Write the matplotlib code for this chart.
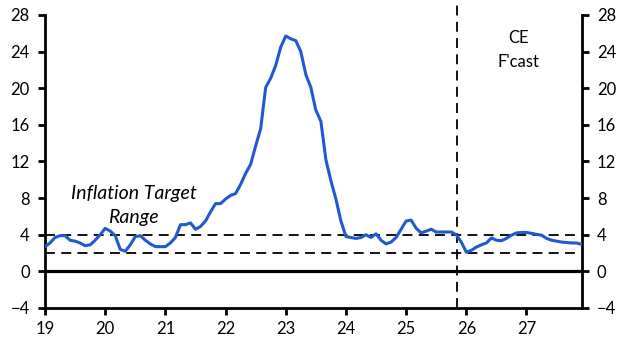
import matplotlib
matplotlib.use("Agg")
import matplotlib.pyplot as plt
import numpy as np

plt.rcParams['font.family'] = ['Lato', 'DejaVu Sans']

# Monthly CPI inflation (% y/y), Jan 2019 - Dec 2027
start_year = 2019
cpi = [
    # 2019
    2.7, 3.1, 3.7, 3.9, 3.9, 3.4, 3.3, 3.1, 2.8, 2.9, 3.4, 4.0,
    # 2020
    4.7, 4.4, 3.9, 2.4, 2.2, 2.9, 3.8, 3.9, 3.4, 3.0, 2.7, 2.7,
    # 2021
    2.7, 3.1, 3.7, 5.1, 5.1, 5.3, 4.6, 4.9, 5.5, 6.5, 7.4, 7.4,
    # 2022
    7.9, 8.3, 8.5, 9.5, 10.7, 11.7, 13.7, 15.6, 20.1, 21.1, 22.5, 24.5,
    # 2023
    25.7, 25.4, 25.2, 24.0, 21.5, 20.1, 17.6, 16.4, 12.2, 9.9, 7.9, 5.5,
    # 2024
    3.8, 3.7, 3.6, 3.7, 4.0, 3.7, 4.1, 3.4, 3.0, 3.2, 3.7, 4.6,
    # 2025
    5.5, 5.6, 4.7, 4.2, 4.4, 4.6, 4.3, 4.3, 4.3, 4.3, 4.0, 3.2,
    # 2026
    2.1, 2.3, 2.65, 2.9, 3.1, 3.65, 3.4, 3.35, 3.6, 3.95, 4.2, 4.25,
    # 2027
    4.25, 4.15, 4.05, 3.95, 3.6, 3.4, 3.3, 3.2, 3.15, 3.1, 3.1, 2.95,
]
target_low = 2.0
target_high = 4.0
forecast_start = 2025.85
year_ticks = list(range(2019, 2028))
year_labels = [str(y)[2:] for y in year_ticks]
y_ticks = [-4, 0, 4, 8, 12, 16, 20, 24, 28]

x = start_year + np.arange(len(cpi)) / 12.0

fig = plt.figure(figsize=(6.27, 3.52), dpi=100)
ax = fig.add_axes([0.0718, 0.125, 0.8559, 0.8324])

xmin, xmax = 2019.0, x[-1]
ax.set_xlim(xmin, xmax)
ax.set_ylim(-4, 28)

blk = '#000000'
ax.axhline(0, color=blk, lw=2.3, zorder=2)
ax.axhline(target_high, color=blk, lw=1.3, ls=(0, (5.5, 3.5)), zorder=2)
ax.axhline(target_low, color=blk, lw=1.3, ls=(0, (5.5, 3.5)), zorder=2)
ax.axvline(forecast_start, ymin=0, ymax=1.04, color=blk, lw=1.3,
           ls=(0, (5.5, 3.5)), clip_on=False, zorder=2)

ax.plot(x, cpi, color='#2258d4', lw=2.2, zorder=3, solid_joinstyle='round')

for s in ['left', 'right', 'bottom']:
    ax.spines[s].set_linewidth(2.0)
    ax.spines[s].set_color(blk)
ax.spines['top'].set_visible(False)

ax.set_xticks(year_ticks)
ax.set_xticklabels(year_labels)
ax.set_yticks(y_ticks)
ax.tick_params(axis='both', direction='out', length=5, width=2.0,
               labelsize=12, colors=blk)
ax.tick_params(axis='y', which='both', left=True, right=True,
               labelleft=True, labelright=True, pad=6)
ax.tick_params(axis='x', pad=4)

ax.text(2020.48, 8.55, 'Inflation Target', style='italic', fontsize=14,
        ha='center', va='center')
ax.text(2020.47, 5.85, 'Range', style='italic', fontsize=14,
        ha='center', va='center')
ax.text(2026.87, 25.45, 'CE', fontsize=12, ha='center', va='center')
ax.text(2026.87, 22.9, 'F\'cast', fontsize=12, ha='center', va='center')

fig.savefig('out.png', dpi=100)
